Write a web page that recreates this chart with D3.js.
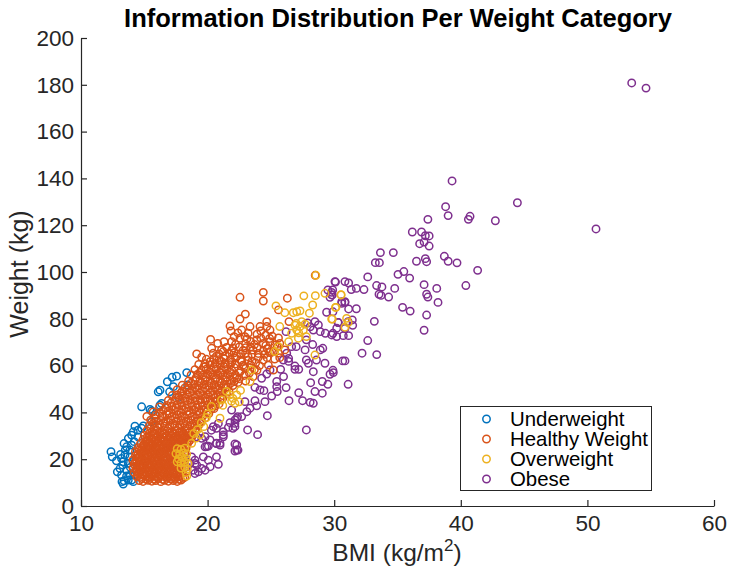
<!DOCTYPE html>
<html>
<head>
<meta charset="utf-8">
<script src="https://cdn.jsdelivr.net/npm/d3@7"></script>
<style>
	html, body { margin: 0; padding: 0; background: #fff; }
	svg { display: block; font-family: "Liberation Sans", Arial, sans-serif; }
</style>
</head>
<body>
<svg id="chart" width="732" height="567"></svg>
<script>
const categories = ['Underweight', 'Healthy Weight', 'Overweight', 'Obese'];
const colors = ['#0072BD', '#D95319', '#EDB120', '#7E2F8E'];
const x_ticks = [10, 20, 30, 40, 50, 60];
const y_ticks = [0, 20, 40, 60, 80, 100, 120, 140, 160, 180, 200];

// [BMI, weight]
const underweight = [[12.37,23.2],[12.47,21],[12.8,19.3],[13.13,22],[13.2,20.3],[12.87,14.6],[13.08,16],[13.34,18.9],[13.29,17.5],[13.24,10.4],[13.34,9.4],[13.4,10.8],[13.2,13.2],[13.6,12.8],[13.87,13.2],[14.26,13.2],[14.13,10.4],[13.74,11.1],[14,11.1],[13.4,26.7],[13.74,28.9],[14,30.3],[13.6,25.3],[13.87,23.9],[14.26,34.1],[14.13,31.7],[14.79,42.4],[13.47,21.8],[13.74,18.2],[13.6,15.3],[13.87,21],[14,26],[14.79,33.2],[14.92,34.2],[15.45,41.3],[15.58,40.6],[16.37,43.8],[16.24,43.1],[15.58,36],[16.1,48.8],[16.24,49.5],[16.82,53.1],[17.2,55],[17.55,55.5],[17,48.8],[17.3,51],[18.35,57],[18.42,51.7],[17.7,46.4],[15.84,38.9],[14.5,32.4],[13.9,16.5],[14.1,19],[13.5,24],[14.2,27.5],[14.5,29.5]];

const healthy_solid = [
	[14.6,10.9],[14.9,10.5],[15.3,11],[15.6,10.6],[15.9,10.9],[16.3,10.4],[16.6,11],[16.9,10.6],[17.3,10.9],[17.6,10.5],[17.9,11.1],
	[14.4,12.6],[14.7,12.3],[15.1,12.7],[15.4,12.4],[15.8,12.8],[16.1,12.3],[16.4,12.7],[16.8,12.4],[17.1,12.8],[17.4,12.3],[17.8,12.6],[18.2,12.3],
	[14.2,14.4],[14.6,14.1],[14.9,14.5],[15.2,14.2],[15.6,14.6],[15.9,14.1],[16.3,14.5],[16.6,14.2],[16.9,14.6],[17.3,14.1],[17.6,14.4],[18,14.2],[18.3,14.6],
	[14.1,16.2],[14.4,15.9],[14.8,16.3],[15.1,16],[15.4,16.4],[15.8,15.9],[16.1,16.3],[16.4,16],[16.8,16.4],[17.1,15.9],[17.5,16.2],[17.8,16],[18.2,16.4],
	[14.2,18],[14.6,17.6],[14.9,18.1],[15.3,17.7],[15.6,18.2],[15.9,17.7],[16.3,18],[16.6,17.7],[17,18.1],[17.3,17.6],[17.7,18],[18,17.7],
	[14.1,19.7],[14.4,19.4],[14.8,19.8],[15.1,19.4],[15.5,19.9],[15.8,19.4],[16.1,19.8],[16.5,19.5],[16.8,19.9],[17.2,19.4],[17.5,19.8],[17.9,19.5],[18.1,19.9],
	[14.3,21.4],[14.6,21.1],[15,21.5],[15.3,21.2],[15.6,21.6],[16,21.1],[16.3,21.5],[16.7,21.2],[17,21.6],[17.3,21.1],[17.7,21.4],[18,21.2],
	[14.3,23.2],[14.7,22.8],[15,23.3],[15.4,22.9],[15.7,23.3],[16.1,22.8],[16.4,23.2],[16.8,22.9],[17.1,23.3],[17.5,22.8],[17.8,23.2],[18.2,22.9],
	[14.5,24.9],[14.8,24.6],[15.2,25],[15.5,24.6],[15.8,25.1],[16.2,24.6],[16.5,25],[16.9,24.7],[17.2,25],[17.6,24.6],[17.9,25],[18.3,24.7],
	[14.7,26.7],[15,26.3],[15.3,26.8],[15.7,26.4],[16,26.8],[16.4,26.3],[16.7,26.7],[17,26.4],[17.4,26.8],[17.7,26.3],[18.1,26.7],[18.4,26.4],
	[14.9,28.4],[15.2,28],[15.6,28.5],[15.9,28.1],[16.3,28.5],[16.6,28],[16.9,28.4],[17.3,28.1],[17.6,28.5],[18,28],[18.3,28.4],[18.6,28.1],
	[15,30.1],[15.4,29.8],[15.7,30.2],[16.1,29.8],[16.4,30.3],[16.8,29.8],[17.1,30.1],[17.5,29.8],[17.8,30.2],[18.2,29.8],[18.5,30.2],[18.8,29.9]
];

// the bottom of the cloud is solid orange, more rings in the gaps of the rows above
const healthy_solid_gaps = [[14.8,11.7],[15.15,11.4],[15.45,11.8],[15.8,11.5],[16.1,11.7],[16.45,11.4],[16.8,11.8],[17.1,11.5],[17.45,11.7],[17.75,11.4],[18.05,11.8],
	[14.5,13.5],[14.85,13.2],[15.2,13.6],[15.5,13.3],[15.85,13.6],[16.2,13.2],[16.5,13.5],[16.85,13.3],[17.2,13.6],[17.5,13.2],[17.85,13.5],
	[14.4,15.2],[14.7,15],[15.05,15.3],[15.4,15],[15.7,15.4],[16.05,15],[16.4,15.3],[16.7,15],[17.05,15.3],[17.4,15],[17.7,15.4],
	[14.3,17],[14.6,16.8],[14.95,17.1],[15.3,16.8],[15.6,17.2],[15.95,16.8],[16.3,17.1],[16.6,16.8],[16.95,17.2],[17.3,16.8],
	[14.3,18.8],[14.6,18.6],[15,18.9],[15.3,18.5],[15.65,19],[16,18.6],[16.3,18.9],[16.65,18.5],[17,19],[17.3,18.6],
	[14.45,20.6],[14.8,20.3],[15.15,20.7],[15.5,20.3],[15.8,20.7],[16.15,20.3],[16.5,20.6],[16.85,20.3],[17.15,20.7],[17.5,20.4],
	[14.5,22.4],[14.85,22.1],[15.2,22.4],[15.5,22],[15.85,22.5],[16.2,22.1],[16.55,22.4],[16.9,22],[17.2,22.4],[17.55,22],
	[14.6,24.1],[14.95,23.8],[15.3,24.2],[15.6,23.8],[15.95,24.2],[16.3,23.7],[16.65,24.1],[17,23.8],[17.35,24.2],[17.7,23.8],
	[14.9,25.8],[15.2,25.5],[15.55,25.9],[15.9,25.6],[16.2,25.9],[16.55,25.5],[16.9,25.9],[17.25,25.6],[17.55,25.9],[17.9,25.6],[18.25,25.9],
	[15.1,27.5],[15.45,27.2],[15.8,27.6],[16.15,27.2],[16.5,27.6],[16.8,27.2],[17.15,27.6],[17.5,27.2],[17.85,27.6],[18.2,27.2],[18.5,27.5],
	[15.2,29.3],[15.55,28.9],[15.9,29.3],[16.25,28.9],[16.55,29.4],[16.95,29],[17.3,29.3],[17.65,28.9],[18,29.3],[18.35,29],[18.7,29.3],
	[15.4,31],[15.8,30.8],[16.2,31.1],[16.6,30.8],[17,31.1],[17.4,30.8],[17.75,31.1],[18.1,30.8],[18.5,31.1],[18.9,30.8]];

const healthy_band = [
	[15.2,32.2],[15.6,31.8],[16,32.3],[16.4,31.9],[16.8,32.2],[17.2,31.8],[17.6,32.3],[18,31.9],[18.4,32.2],[18.8,31.9],[19,32.4],
	[15.4,34.3],[15.8,34],[16.2,34.5],[16.6,34.1],[17,34.4],[17.4,34],[17.8,34.5],[18.2,34],[18.6,34.4],[19,34.1],[19.3,34.5],
	[15.5,36.7],[15.9,36.2],[16.3,36.6],[16.7,36.2],[17.1,36.7],[17.5,36.3],[17.9,36.6],[18.3,36.2],[18.7,36.7],[19.1,36.3],[19.5,36.6],
	[15.2,38.3],[15.9,38.9],[16.4,38.5],[16.8,39],[17.2,38.4],[17.6,38.9],[18,38.5],[18.4,39],[18.8,38.4],[19.2,38.8],[19.6,38.4],
	[15.7,40.2],[16.5,41],[16.9,40.6],[17.3,41.2],[17.7,40.7],[18.1,41.1],[18.5,40.6],[18.9,41.1],[19.3,40.7],[19.7,41],[20,40.6],
	[16.2,42.3],[16.8,43],[17.2,42.7],[17.6,43.2],[18,42.8],[18.4,43.3],[18.8,42.8],[19.2,43.2],[19.6,42.8],[20,43.2],[20.4,42.7],
	[16.9,45.1],[17.4,44.9],[17.8,45.4],[18.2,44.9],[18.6,45.3],[19,44.9],[19.4,45.4],[19.8,45],[20.2,45.3],[20.6,44.9],
	[17.2,47.2],[17.6,47.5],[18,47],[18.4,47.6],[18.8,47.1],[19.2,47.5],[19.6,47.1],[20,47.6],[20.4,47.2],[20.8,47.6],
	[17.6,49.7],[18,49.2],[18.4,49.7],[18.8,49.3],[19.2,49.8],[19.6,49.3],[20,49.7],[20.4,49.3],[20.8,49.8],[21.1,49.3],
	[18,51.6],[18.5,51.3],[18.9,51.9],[19.3,51.4],[19.7,51.9],[20.1,51.4],[20.5,51.8],[20.9,51.4],[21.3,51.9],
	[18.5,53.4],[19,54],[19.4,53.5],[19.8,54],[20.2,53.6],[20.6,54.1],[21,53.5],[21.4,54],
	[18.7,56],[19.2,56.2],[19.6,55.8],[20,56.3],[20.4,55.8],[20.8,56.2],[21.2,55.8],[21.6,56.2],
	[19,58.3],[19.5,58],[19.9,58.5],[20.3,58.1],[20.7,58.5],[21.1,58],[21.5,58.4],[21.9,58]
];

const healthy_sparse = [[22.56,89.2],[24.4,91.3],[24.4,87.6],[26.3,88.8],[22.56,79.9],[22.98,82],[25.6,83.8],[26.43,78.8],[21.77,76.9],[21.85,74.8],[20.24,71.2],[22.69,75.2],[23.35,76.7],[23.2,73.8],[24.67,78.8],[24.14,76.7],[24.67,76.7],[24.93,75.2],[19.14,65],[19.53,63.6],[20.32,67.4],[20.45,65.3],[21.24,66],[21.9,70.2],[22.56,71.7],[22.95,72.4],[23.88,71],[24.4,69.5],[24.93,70.2],[25.32,68.8],[25.7,69.5],[26.1,66.7],[25.2,58.1],[24.4,62.4],[23.6,55.3],[28.5,98.6],[19.3,60.5],[19.8,60.8],[20.2,60.3],[20.6,60.9],[21,60.4],[21.4,60.8],[21.8,60.4],[22.2,60.7],[19.9,62.7],[20.5,63],[20.9,62.5],[21.3,63.1],[21.8,62.6],[22.2,63.2],[22.6,62.4],[20.9,65],[21.7,65.2],[22.1,65.5],[22.6,65],[23,65.3],[23.5,64.8],[24,65.2],[24.5,64.8],[21.5,67.8],[22,67.5],[22.5,68],[23,67.6],[23.4,68],[23.9,67.5],[24.7,67.2],[25.2,66],[20.8,69.5],[21.3,70.2],[23.4,70.3],[23.9,73.4],[24.6,73],[25.1,72.6],[25.6,71.8],[22.2,56],[22.6,57.6],[23,58.8],[23.4,60.3],[23.8,61.2],[24.8,60.2],[22.1,53.2],[22.5,54.4],[22.9,55.8],[21.6,50.7],[22,51.5],[21.2,47.2],[21.7,48.9],[20.7,44.6],[21,45.8],[20.3,41.5],[20.6,42.8],[23.9,58],[23.2,62.2],[22.8,60.2]];

// second pass over the crowded band, where rings sit on top of each other
const healthy_fill = [[15.5,33.2],[16.1,33.5],[16.9,33.1],[17.7,33.3],[18.4,33],[19.1,33.2],[15.7,35.3],[16.5,35.6],[17.3,35.2],[18.1,35.5],[18.9,35.1],[19.4,35.8],[15.8,37.6],[16.5,37.9],[17.4,37.5],[18.2,37.8],[19,37.4],[19.8,37.6],[16.2,39.9],[17,39.6],[17.9,39.9],[18.6,39.6],[19.4,39.9],[20.1,39.5],[16.7,41.9],[17.5,42],[18.3,41.8],[19.1,42.1],[19.9,41.9],[20.5,41.6],[17.1,44],[17.9,44.2],[18.7,43.9],[19.5,44.2],[20.3,43.9],[20.9,43.6],[17.5,46.2],[18.2,46.1],[19,46.3],[19.8,46],[20.6,46.3],[21.2,46],[17.9,48.4],[18.6,48.5],[19.4,48.3],[20.2,48.6],[21,48.4],[21.5,47.9],[18.2,50.5],[19,50.6],[19.8,50.4],[20.6,50.7],[21.4,50.4],[18.7,52.5],[19.5,52.7],[20.3,52.5],[21.1,52.7],[21.8,52.4],[19.1,54.9],[19.9,55],[20.7,54.8],[21.5,55],[22.3,54.8],[19.4,57.1],[20.2,57.2],[21,57],[21.8,57.2],[22.5,56.9],[19.7,59.4],[20.5,59.3],[21.3,59.5],[22.1,59.2],[22.9,59.6],[20.2,61.7],[21.1,61.8],[21.9,61.5],[22.7,61.7],[23.5,61.9],[20.7,64],[21.4,64.2],[22.3,64],[23.2,63.8],[24,63.5],[21.1,66.7],[21.9,66.4],[22.8,66.5],[23.6,66.6],[24.4,66.3],[22.2,69],[23,69.3],[23.7,69],[24.6,68.6],[25.5,68],[23.1,71.4],[24.2,71.8],[24.9,71.6],[22.4,74],[22.1,72.4],[24.2,74.8],[21.8,53.8],[22.4,52.8],[23,53.4],[23.3,56.8],[23.7,58.3],[24.1,60],[24.7,63.4],[25.3,62.8],[25.7,63.4],[24.9,65.6],[25.6,65.4]];

const overweight = [[27.6,89.8],[28.51,89.9],[29.27,90.9],[30.54,90.2],[28.3,85.9],[30.14,84.9],[25.4,85.5],[26.1,82.6],[26.77,82.6],[27.04,83],[27.3,83.4],[28.04,82.4],[29.8,79.9],[30.98,80.2],[25.7,76.7],[27.43,78.8],[27.3,76.7],[27.56,75.2],[27.04,75.2],[26.64,73.8],[27.17,71.7],[27.8,72.4],[28.48,64.5],[26.4,70.2],[25.6,68.1],[25.3,66],[23.48,58.1],[23.35,53.2],[22.3,47.5],[21.77,47.5],[22.16,43.9],[21.1,45.3],[20.3,42.5],[20.98,37.5],[18.74,26.8],[19.1,29],[19.4,30.4],[28.55,98.6],[30.54,90.3],[30.1,84.9],[29.85,79.9],[31.1,78.4],[30.85,76.4],[27,78],[27.7,77.7],[27.2,74],[26.9,77.3],[21.5,49],[22,46],[22.6,49.4],[21.2,43],[21.9,44.8],[22.5,44.5],[20,39.3],[19.9,37.8],[19.5,35.6],[19.7,33.9],[18.9,31],[19.2,32.6],
	[17.6,24.5],[17.9,24.2],[18.2,24.7],[17.5,22.4],[17.8,22.2],[18.1,22.7],[18.35,22.2],[17.7,20.2],[18,20.8],[18.3,20.2],[17.6,18.9],[17.9,18.4],[18.2,18.7],[18.45,18.2],[17.9,16.2],[18.2,16.6],[18.4,15.8],[18.3,14.3],[18.35,12.8]];

const obese = [[53.5,180.8],[54.63,178.6],[50.68,118.4],[39.31,138.9],[38.8,127.9],[39,124.1],[37.4,122.5],[40.73,123.8],[40.6,122.5],[42.73,121.9],[44.47,129.6],[36.17,117.1],[36.9,117.1],[37.2,115.5],[37.5,115.4],[36.75,112.1],[37.1,112.8],[37.5,111.1],[33.65,108.3],[34.67,108.3],[33.25,104],[33.57,104],[36.5,104.6],[37.2,105.7],[37.3,104.4],[38.7,106.7],[39,104.6],[39.7,103.9],[41.33,100.7],[35.04,99],[35.5,100.2],[35.96,97.4],[32.65,97.9],[30.1,95.7],[31.14,95.3],[31.35,92.5],[31.75,93],[32.35,92.5],[33.35,94.2],[33.77,93.6],[34.78,93],[33.54,90.5],[33.7,90],[34.3,89.3],[37.1,94.6],[38.1,93],[40.4,94.2],[37.3,90.5],[37.4,89.3],[38.2,87],[35.4,84.9],[36,83.3],[37.3,81.6],[37.1,75.1],[33.17,78.9],[31.43,79.5],[31.46,77.2],[32.65,70.7],[32.2,65.3],[33.36,64.7],[30.67,62],[30.85,62],[31.14,72.8],[30.72,72.8],[30.2,72.4],[29.9,73.8],[31.14,84.2],[31.75,84.3],[30.85,87],[30.6,87.3],[30.33,78.4],[29.85,90.2],[29.8,91.3],[29.9,58],
	[30.06,95.9],[30.85,95.9],[29.5,92.3],[29.88,92.3],[29.8,90.2],[29.67,89.2],[29.4,82.8],[29.9,83],[30.59,86.6],[30.85,87.3],[30.3,78.4],[31.1,78.8],[30.85,75.9],[30.2,76],[29.8,73.1],[29.3,73.8],[28.9,74.5],[28.48,78.8],[28.75,77.4],[29.1,67.4],[28.9,66.7],[29.27,61],[28.6,62.4],[27.8,62.4],[27.96,61],[27.2,58.4],[26.9,58.4],[26.9,59.8],[26.4,63.1],[28.35,57.4],[29.67,56.3],[29.93,57],[31.1,52],[28.14,52.7],[29.06,53.2],[29.5,52],[28.48,48.9],[29.06,48.2],[27.2,48.4],[27.5,45],[28.1,44.3],[28.35,43.9],[26.43,45],[26.2,50.6],[26,55.3],[25.77,58.4],[25.46,51],[25.5,48.9],[25.46,53.2],[25.06,47],[24.45,49.3],[24.14,49.6],[23.74,50.7],[24.27,54.6],[24.67,56.4],[24.93,58.1],[24.53,44.6],[23.74,45],[23.35,41.8],[22.95,44.6],[23.88,42.8],[24.72,38.6],[27.8,32.5],[23.95,30.5],[23.16,32.5],[22.37,38.2],[22.69,38.2],[23.1,40.3],[22.16,36.8],[21.77,35.6],[22.16,33.9],[21.24,30.4],[20.7,26.8],[20.98,26.8],[20.19,28.2],[19.8,29.6],[22.3,26.1],[19.93,25.4],[20.85,35.3],[20.45,33.9],[19.14,29.6],[19.53,28.9],[22.3,23.9],
	[25.98,62.4],[26.4,61.8],[27,68.1],[27.7,66.7],[28.35,75.2],[27.8,71],[26.64,68.1],[26.25,65.3],[28.3,69],[28.1,76.6],[27.9,78.2],[26.2,74.5],
	[18.74,21],[19,19.6],[19.66,21],[20.06,19.6],[20.7,21],[20.85,17.8],[20.2,16.8],[19.53,16],[19,18.2],[19.14,17.5],[18.87,15.3],[19,13.9],[19.27,14.6],[19.8,15.3],[18.6,18.2],[18.35,16.8],[19.8,25.3],[20.06,25.6],[20.7,26.7],[20.98,26],[21.24,29.6],[21.24,31.7],[20.7,33.2],[20.3,32.4],[21.64,33.6],[22,33.2],[22.16,35.3],[22.3,37.4],[21.9,41],[22.16,26.5],[22.16,23.5],[22.4,23.9]];

const healthy = healthy_solid.concat(healthy_solid_gaps, healthy_band, healthy_sparse, healthy_fill);
const series = [underweight, healthy, overweight, obese];
const draw_order = [3, 0, 1, 2];

const svg = d3.select('#chart');
const scaleX = d3.scaleLinear().domain([10, 60]).range([81, 714]);
const scaleY = d3.scaleLinear().domain([0, 200]).range([506, 38]);

// points first, axes on top
draw_order.forEach(idx => {
	svg.append('g')
		.selectAll('circle')
		.data(series[idx])
		.enter()
		.append('circle')
		.attr('cx', d => scaleX(d[0]))
		.attr('cy', d => scaleY(d[1]))
		.attr('r', 3.7)
		.attr('fill', 'none')
		.attr('stroke', colors[idx])
		.attr('stroke-width', 1.5);
});

const axisX = d3.axisBottom(scaleX).tickValues(x_ticks).tickSizeInner(-6).tickSizeOuter(0).tickPadding(9);
const axisY = d3.axisLeft(scaleY).tickValues(y_ticks).tickSizeInner(-6).tickSizeOuter(0).tickPadding(7);

[svg.append('g').attr('transform', 'translate(0,506)').call(axisX),
 svg.append('g').attr('transform', 'translate(81,0)').call(axisY)].forEach(g => {
	g.selectAll('text').attr('font-size', 22.5).attr('font-family', 'Liberation Sans').attr('fill', '#262626');
	g.selectAll('line, path').attr('stroke', '#262626').attr('stroke-width', 1.2);
});

svg.append('text')
	.attr('x', 398).attr('y', 27)
	.attr('text-anchor', 'middle')
	.attr('font-size', 25.5).attr('font-weight', 'bold').attr('fill', '#000')
	.text('Information Distribution Per Weight Category');

svg.append('text')
	.attr('transform', 'translate(28,274) rotate(-90)')
	.attr('text-anchor', 'middle')
	.attr('font-size', 25).attr('fill', '#262626')
	.text('Weight (kg)');

const label_x = svg.append('text')
	.attr('x', 397).attr('y', 561)
	.attr('text-anchor', 'middle')
	.attr('font-size', 24.5).attr('fill', '#262626');
label_x.append('tspan').text('BMI (kg/m');
label_x.append('tspan').attr('dy', -10).attr('font-size', 17).text('2');
label_x.append('tspan').attr('dy', 10).text(')');

// legend
const legend = svg.append('g').attr('transform', 'translate(460.5,406.5)');
legend.append('rect')
	.attr('width', 191).attr('height', 84)
	.attr('fill', '#fff').attr('stroke', '#262626').attr('stroke-width', 1);

const rows = legend.selectAll('g.row')
	.data(categories)
	.enter()
	.append('g')
	.attr('class', 'row')
	.attr('transform', (d, i) => 'translate(0,' + (12.5 + i * 20) + ')');

rows.append('circle')
	.attr('cx', 26)
	.attr('r', 3.7)
	.attr('fill', 'none')
	.attr('stroke', (d, i) => colors[i])
	.attr('stroke-width', 1.5);

rows.append('text')
	.attr('x', 49.5).attr('y', 7)
	.attr('font-size', 20.4).attr('fill', '#000')
	.text(d => d);
</script>
</body>
</html>
